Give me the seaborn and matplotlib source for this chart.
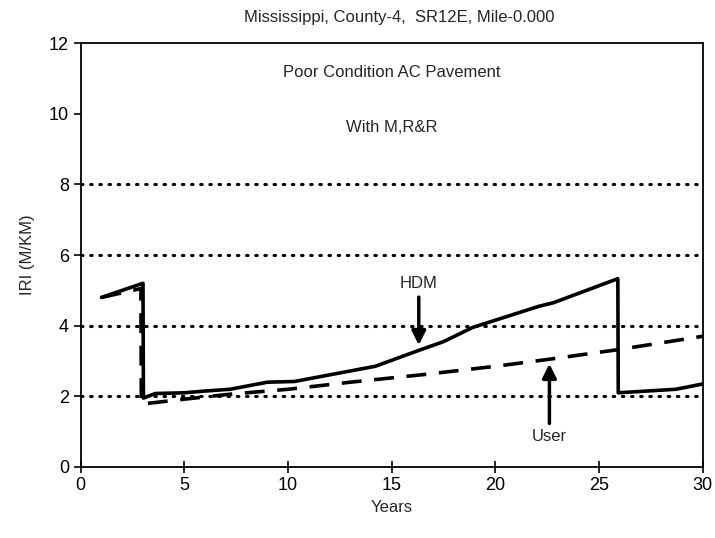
import pandas as pd
import seaborn as sns
import matplotlib.pyplot as plt

# HDM predicted IRI (solid line)
hdm_years = [1, 3, 3.02, 3.6, 5, 6, 7.2, 9, 10.3, 14.2, 16.3, 17.5, 18.9, 20.5, 22.1, 22.8, 25.9, 25.92, 28.7, 30]
hdm_iri = [4.8, 5.2, 1.95, 2.08, 2.1, 2.15, 2.2, 2.4, 2.42, 2.85, 3.3, 3.55, 3.95, 4.25, 4.55, 4.65, 5.33, 2.1, 2.2, 2.35]

# User-defined model (dashed line)
user_years = [1, 2.9, 2.92, 5, 7.2, 10, 13, 16.6, 20, 22.6, 25.9, 30]
user_iri = [4.8, 5.05, 1.78, 1.92, 2.06, 2.2, 2.4, 2.62, 2.85, 3.05, 3.32, 3.7]

grid_levels = [2, 4, 6, 8]

hdm = pd.DataFrame({'Years': hdm_years, 'IRI': hdm_iri})
user = pd.DataFrame({'Years': user_years, 'IRI': user_iri})

sns.set_style('ticks')
plt.rcParams['font.family'] = ['Liberation Sans', 'DejaVu Sans']

fig = plt.figure(figsize=(7.15, 5.38), dpi=100)
ax = fig.add_axes([0.113, 0.132, 0.870, 0.788])

for lvl in grid_levels:
    ax.axhline(lvl, color='black', linestyle=(0, (0.5, 2.5)), linewidth=2.2,
               dash_capstyle='round', zorder=1)

sns.lineplot(data=hdm, x='Years', y='IRI', ax=ax, color='black', linewidth=2.6,
             sort=False, estimator=None, zorder=3)
sns.lineplot(data=user, x='Years', y='IRI', ax=ax, color='black', linewidth=2.6,
             sort=False, estimator=None, zorder=3)
ax.lines[-1].set_linestyle((0, (5.5, 3.5)))

ax.set_xlim(0, 30)
ax.set_ylim(0, 12)
ax.set_xticks(range(0, 31, 5))
ax.set_yticks(range(0, 13, 2))
ax.tick_params(axis='both', labelsize=13, color='black', labelcolor='black', length=5, width=1.2)
ax.tick_params(axis='x', direction='inout', length=8)
for s in ax.spines.values():
    s.set_color('black')
    s.set_linewidth(1.3)

ax.set_xlabel('Years', fontsize=12, labelpad=4)
ax.set_ylabel('IRI (M/KM)', fontsize=12, labelpad=10)
fig.text(0.558, 0.968, 'Mississippi, County-4,  SR12E, Mile-0.000', ha='center', va='center', fontsize=12)

ax.text(0.5, 0.93, 'Poor Condition AC Pavement', transform=ax.transAxes, ha='center', va='center', fontsize=12)
ax.text(0.5, 0.80, 'With M,R&R', transform=ax.transAxes, ha='center', va='center', fontsize=12)

arrow = dict(arrowstyle='-|>,head_width=0.35,head_length=0.7', color='black', lw=2.5, shrinkA=2, shrinkB=0)
ax.annotate('HDM', xy=(16.3, 3.45), xytext=(16.3, 4.98), ha='center', va='bottom', fontsize=12, arrowprops=arrow)
ax.annotate('User', xy=(22.6, 2.92), xytext=(22.6, 0.85), ha='center', va='center', fontsize=12, arrowprops=arrow)

plt.savefig('out.png', dpi=100)
